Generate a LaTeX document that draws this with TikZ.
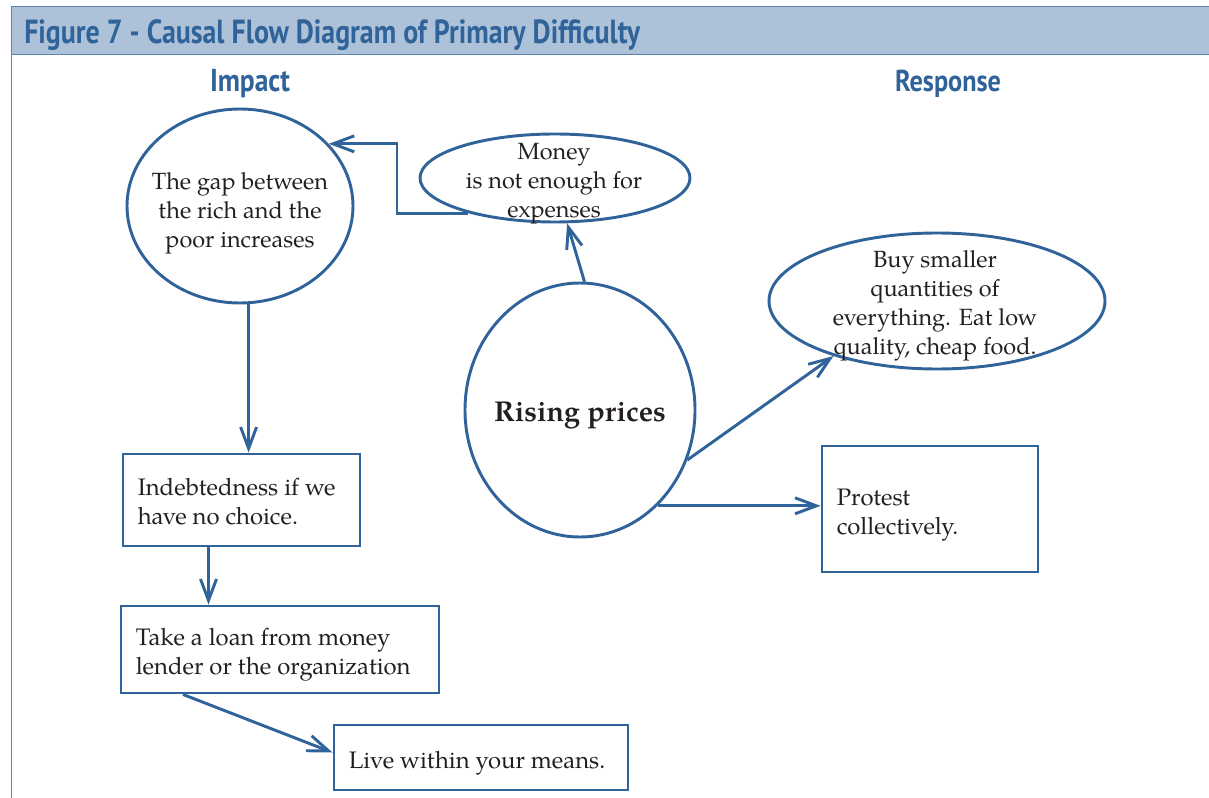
\documentclass[tikz,border=0pt]{standalone}
\usepackage{fontspec}
\setmainfont{TeX Gyre Pagella}
\newfontfamily\headfont{PT Sans}
\usetikzlibrary{arrows.meta,shapes.geometric}
\definecolor{lineblue}{HTML}{2F6399}
\definecolor{bandfill}{HTML}{ADC2D9}
\definecolor{bandline}{HTML}{5B83AE}
\definecolor{ink}{HTML}{231F20}
\tikzset{
  oval/.style={ellipse, draw=lineblue, line width=2.2pt, inner sep=0pt},
  txt/.style={text=ink, align=center, font=\fontsize{17.6}{21.75}\selectfont, inner sep=0pt},
  boxnode/.style={rectangle, draw=lineblue, line width=2.2pt, inner sep=0pt},
  boxtxt/.style={text=ink, align=left, anchor=west, inner sep=0pt, font=\fontsize{17.9}{21.75}\selectfont},
  conn/.style={draw=lineblue, line width=2.2pt, -{Straight Barb[length=16pt,width=12pt]}},
  head/.style={text=lineblue, font=\headfont\bfseries, inner sep=0pt}
}
\begin{document}
\begin{tikzpicture}[x=0.75pt,y=-0.75pt]
\useasboundingbox (0,0) rectangle (1209,798);
% header band and frame
\path[fill=bandfill, draw=bandline, line width=0.75pt] (11,7) rectangle (1212,55);
\draw[bandline, line width=0.75pt] (11,55) -- (11,800);
\node[head, anchor=base west] (title) at (24,44) {\scalebox{1}[1.2]{\resizebox{462pt}{!}{Figure 7 - Causal Flow Diagram of Primary Difficulty}}};
\node[head, anchor=base] (impact) at (250,92) {\scalebox{1}[1.15]{\resizebox{60pt}{!}{Impact}}};
\node[head, anchor=base] (response) at (948,92) {\scalebox{1}[1.15]{\resizebox{79.5pt}{!}{Response}}};

% ellipses
\node[oval, minimum width=169.5pt, minimum height=145.5pt] (gap) at (240,206) {};
\node[txt] (gapT) at (240,213) {The gap between\\the rich and the\\poor increases};
\node[oval, minimum width=202.5pt, minimum height=66pt] (money) at (555,178) {};
\node[txt] (moneyT) at (554,184) {Money\\is not enough for\\expenses};
\node[oval, minimum width=172.5pt, minimum height=190.5pt] (rise) at (580,410) {};
\node[txt, font=\fontsize{21.5}{26}\selectfont\bfseries] (riseT) at (580,416) {Rising prices};
\node[oval, minimum width=252pt, minimum height=102pt] (buy) at (937,301) {};
\node[txt] (buyT) at (935,306) {Buy smaller\\quantities of\\everything. Eat low\\quality, cheap food.};

% boxes
\node[boxnode, minimum width=177.75pt, minimum height=69pt] (indebt) at (241.5,500) {};
\node[boxtxt] (indebtT) at ([xshift=12pt,yshift=-1.5pt]indebt.west) {Indebtedness if we\\have no choice.};
\node[boxnode, minimum width=238.5pt, minimum height=65.25pt] (loan) at (280,649.5) {};
\node[boxtxt] (loanT) at ([xshift=12pt,yshift=-3.75pt]loan.west) {Take a loan from money\\lender or the organization};
\node[boxnode, minimum width=220.5pt, minimum height=48.75pt] (live) at (481,757.5) {};
\node[boxtxt] (liveT) at ([xshift=12pt,yshift=-4.5pt]live.west) {Live within your means.};
\node[boxnode, minimum width=162pt, minimum height=94.5pt] (protest) at (930,509) {};
\node[boxtxt] (protestT) at ([xshift=12pt,yshift=-4.5pt]protest.west) {Protest\\collectively.};

% connectors
\coordinate (k) at (397,180);
\draw[conn] (money.202) -| (k) |- (gap.35);
\draw[conn] (rise.88) -- (money.-75);
\draw[conn] (rise.-25) -- (buy.208);
\draw[conn] (rise.-51) -- (rise.-51 -| protest.west);
\draw[conn] (gap.-85) -- (gap.-85 |- indebt.north);
\draw[conn] ([xshift=-24.75pt]indebt.south) -- ([xshift=-24.75pt]indebt.south |- loan.north);
\draw[conn] ([xshift=-72.75pt]loan.south) -- ([yshift=3.75pt]live.west);
\end{tikzpicture}
\end{document}
